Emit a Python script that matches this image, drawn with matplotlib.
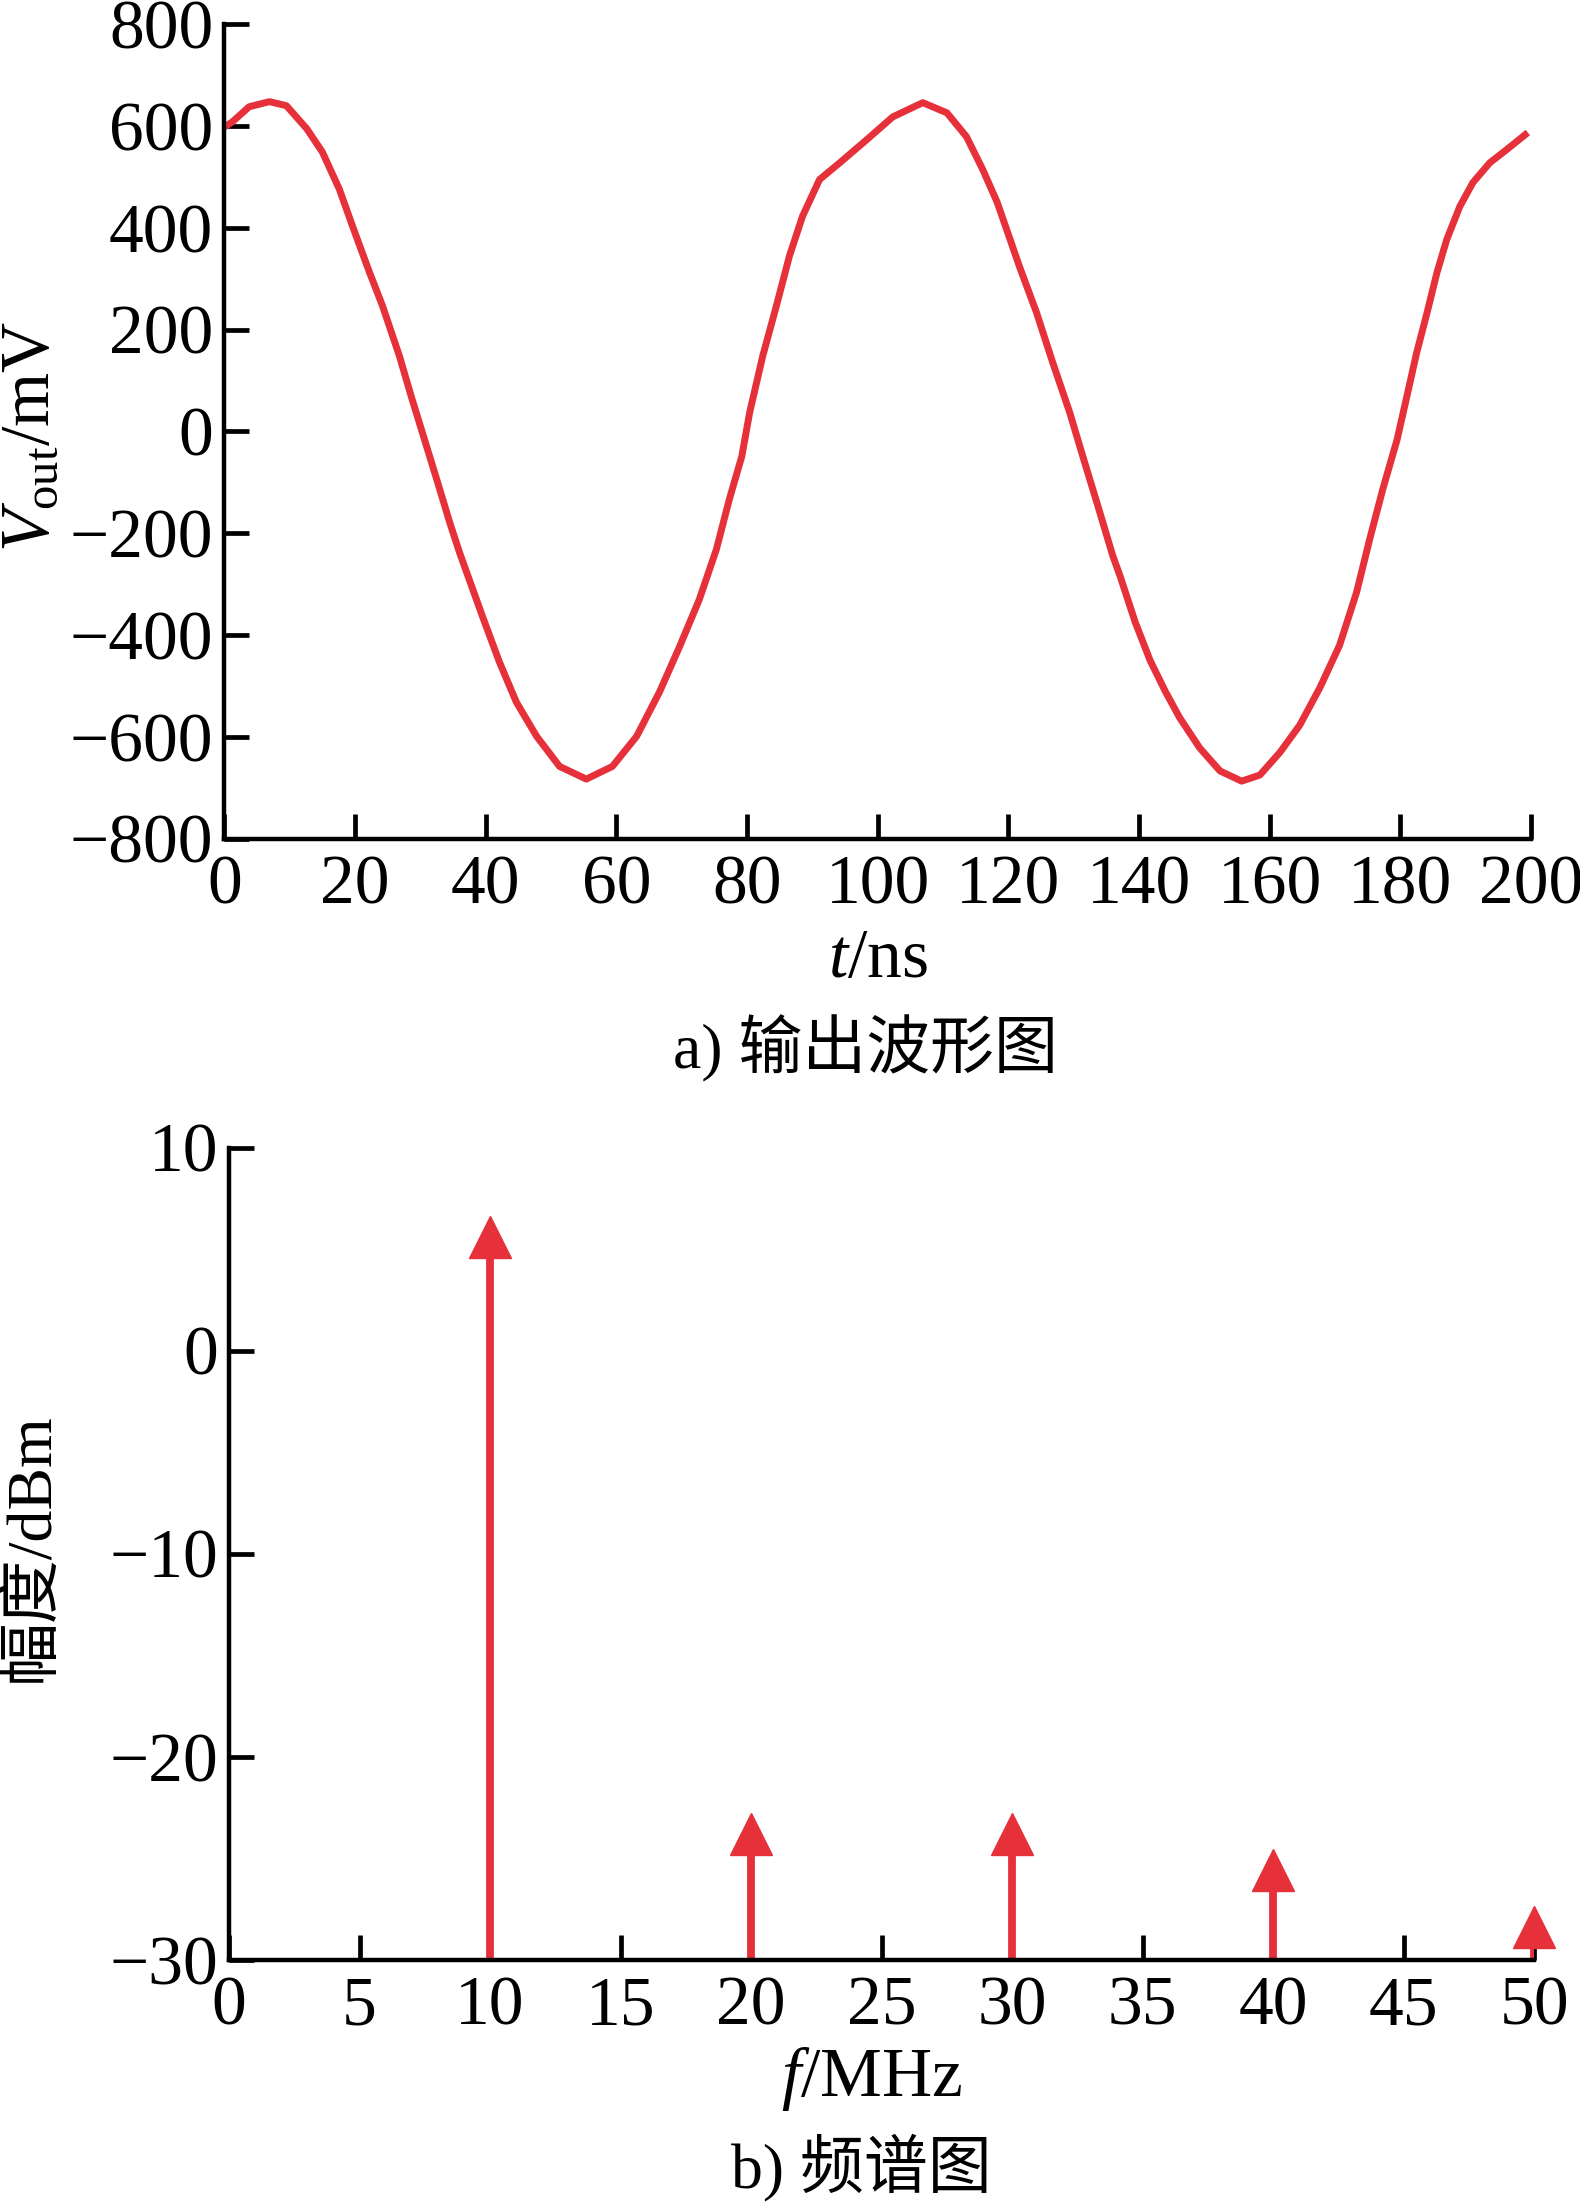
import numpy as np
import matplotlib
matplotlib.use("Agg")
import matplotlib.pyplot as plt

# izhodni signal (odcitano s slike)
t_ns = [0, 1.2, 3.8, 6.9, 9.5, 12.6, 15.0, 17.6, 19.6, 22.2,
        24.2, 26.8, 28.6, 30.3, 32.5, 34.5, 36.0, 39.5, 42.1, 44.7,
        47.8, 51.3, 55.4, 59.4, 63.1, 66.6, 69.7, 72.7, 75.3, 77.3,
        79.2, 80.4, 82.4, 84.5, 86.5, 88.5, 91.1, 94.2, 98.3, 102.3,
        106.9, 110.6, 113.6, 116.1, 118.3, 121.7, 124.3, 126.8, 129.4, 131.4,
        134.0, 136.0, 137.1, 139.4, 141.7, 144.0, 146.2, 149.3, 152.4, 155.7,
        158.5, 161.6, 164.6, 167.7, 170.7, 173.3, 175.3, 177.3, 179.5, 181.0,
        182.5, 184.1, 185.6, 187.1, 189.1, 191.1, 193.7, 196.3, 199.1]
v_out = [598, 608, 638, 648, 640, 595, 549, 476, 404, 313,
         247, 148, 69, -2, -94, -179, -238, -363, -453, -532,
         -599, -658, -683, -658, -599, -512, -422, -330, -232, -133,
         -49, 37, 148, 247, 345, 423, 495, 528, 573, 618,
         646, 626, 579, 514, 450, 324, 234, 135, 37, -49,
         -159, -245, -284, -374, -450, -510, -562, -622, -667, -687,
         -675, -630, -577, -503, -420, -316, -212, -114, -16, 69,
         155, 234, 312, 377, 442, 489, 528, 554, 583]

# spekter
frekvence = [10, 20, 30, 40, 50]
amplitude = [5.6, -23.8, -23.8, -25.6, -28.4]

x1_ticks = list(range(0, 201, 20))
y1_ticks = list(range(-800, 801, 200))
x2_ticks = list(range(0, 51, 5))
y2_ticks = [-30, -20, -10, 0, 10]

rdeca = "#e6303a"
pisava = ["Liberation Serif", "Noto Sans CJK SC"]

plt.rcParams["font.family"] = pisava
plt.rcParams["mathtext.fontset"] = "custom"
plt.rcParams["mathtext.rm"] = "Liberation Serif"
plt.rcParams["mathtext.it"] = "Liberation Serif:italic"
plt.rcParams["axes.unicode_minus"] = True

fig = plt.figure(figsize=(15.8, 22.07), dpi=100)
ax1 = fig.add_axes([0.142, 0.620, 0.827, 0.369])
ax2 = fig.add_axes([0.145, 0.112, 0.826, 0.368])


def uredi_os(ax):
    for s in ["top", "right"]:
        ax.spines[s].set_visible(False)
    for s in ["left", "bottom"]:
        ax.spines[s].set_linewidth(3.2)
    ax.tick_params(direction="in", length=18, width=3.4, labelsize=50, pad=8)
    ax.tick_params(axis="x", pad=12)


# graf a) izhodna oblika
ax1.plot(t_ns, v_out, color=rdeca, lw=5)
ax1.set_xlim(0, 200)
ax1.set_ylim(-800, 800)
ax1.set_xticks(x1_ticks)
ax1.set_yticks(y1_ticks)
uredi_os(ax1)

# graf b) spekter
ax2.vlines(frekvence, -30, amplitude, color=rdeca, lw=5.6)
ax2.plot(frekvence, amplitude, "^", color=rdeca, markersize=30, clip_on=False)
ax2.set_xlim(0, 50)
ax2.set_ylim(-30, 10)
ax2.set_xticks(x2_ticks)
ax2.set_yticks(y2_ticks)
uredi_os(ax2)

fig.text(0.556, 0.565, r"$t$/ns", ha="center", va="center", fontsize=50)
fig.text(0.548, 0.525, "a) 输出波形图", ha="center", va="center", fontsize=46, family=pisava)
fig.text(0.020, 0.802, r"$V_{\mathrm{out}}$/mV", ha="center", va="center",
         rotation=90, fontsize=50)

fig.text(0.552, 0.058, r"$f$/MHz", ha="center", va="center", fontsize=50)
fig.text(0.545, 0.018, "b) 频谱图", ha="center", va="center", fontsize=46, family=pisava)
fig.text(0.020, 0.299, "幅度/dBm", ha="center", va="center", rotation=90,
         fontsize=46, family=pisava)

fig.savefig("out.png", dpi=100)
